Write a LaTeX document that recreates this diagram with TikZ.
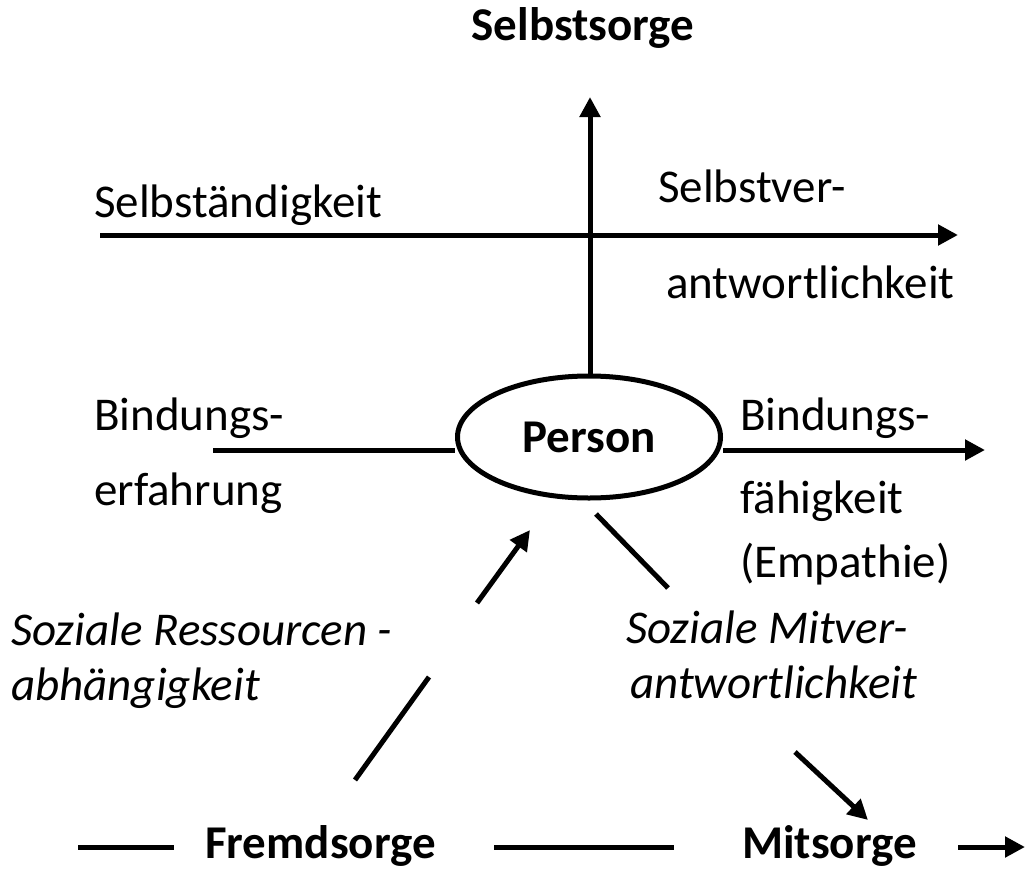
\documentclass[tikz,border=0pt]{standalone}
\usepackage{fontspec}
\setmainfont{Carlito}
\usetikzlibrary{arrows.meta,shapes.geometric}
\begin{document}
\begin{tikzpicture}[x=1pt,y=-1pt,
  lbl/.style={anchor=base west,inner sep=0pt,font=\fontsize{47}{56}\selectfont},
  blbl/.style={lbl,font=\fontsize{47}{56}\selectfont\bfseries},
  ilbl/.style={lbl,font=\fontsize{47}{56}\selectfont\itshape},
  conn/.style={line width=5pt},
  arr/.style={conn,-{Triangle[length=20pt,width=20pt]}}]
\useasboundingbox (0,0) rectangle (1025,870);
\node[ellipse,draw,line width=5pt,minimum width=263pt,minimum height=122pt,inner sep=0pt,
  font=\fontsize{47}{56}\selectfont\bfseries] (person) at (589,437) {Person};
% text
\node[blbl,anchor=base] (selbstsorge) at (583,40) {Selbstsorge};
\node[lbl] (selbstaendig) at (94,217) {Selbständigkeit};
\node[lbl] (selbstver1) at (658,202) {Selbstver-};
\node[lbl] (selbstver2) at (666,298) {antwortlichkeit};
\node[lbl] (bindl1) at (94,430) {Bindungs-};
\node[lbl] (bindl2) at (94,505) {erfahrung};
\node[lbl] (bindr1) at (740,430) {Bindungs-};
\node[lbl] (bindr2) at (740,513) {fähigkeit};
\node[lbl] (bindr3) at (740,577) {(Empathie)};
\node[ilbl] (sozres1) at (11,645) {Soziale Ressourcen -};
\node[ilbl] (sozres2) at (11,700) {abhängigkeit};
\node[ilbl] (sozmit1) at (626,643) {Soziale Mitver-};
\node[ilbl] (sozmit2) at (630,698) {antwortlichkeit};
\node[blbl] (fremd) at (205,858) {Fremdsorge};
\node[blbl] (mit) at (742,858) {Mitsorge};
% coordinates
\coordinate (vtop) at (590,97);
\coordinate (hleft) at (100,235);
\coordinate (hright) at (958,235);
\coordinate (bl) at (213,450);
\coordinate (br) at (985,450);
\coordinate (d1a) at (477,603);
\coordinate (d1b) at (530,530);
\coordinate (d2a) at (355,780);
\coordinate (d2b) at (429,677);
\coordinate (d3a) at (596,514);
\coordinate (d3b) at (668,588);
\coordinate (d4a) at (795,752);
\coordinate (d4b) at (868,820);
\coordinate (b1a) at (78,847);
\coordinate (b1b) at (174,847);
\coordinate (b2a) at (494,847);
\coordinate (b2b) at (674,847);
\coordinate (b3a) at (958,847);
\coordinate (b3b) at (1025,847);
% connectors
\draw[arr] (person.north -| vtop) -- (vtop);
\draw[arr] (hleft) -- (hright);
\draw[conn] (bl) -- (bl -| person.west);
\draw[arr] (br -| person.east) -- (br);
\draw[arr] (d1a) -- (d1b);
\draw[conn] (d2a) -- (d2b);
\draw[conn] (d3a) -- (d3b);
\draw[arr] (d4a) -- (d4b);
\draw[conn] (b1a) -- (b1b);
\draw[conn] (b2a) -- (b2b);
\draw[arr] (b3a) -- (b3b);
\end{tikzpicture}
\end{document}
